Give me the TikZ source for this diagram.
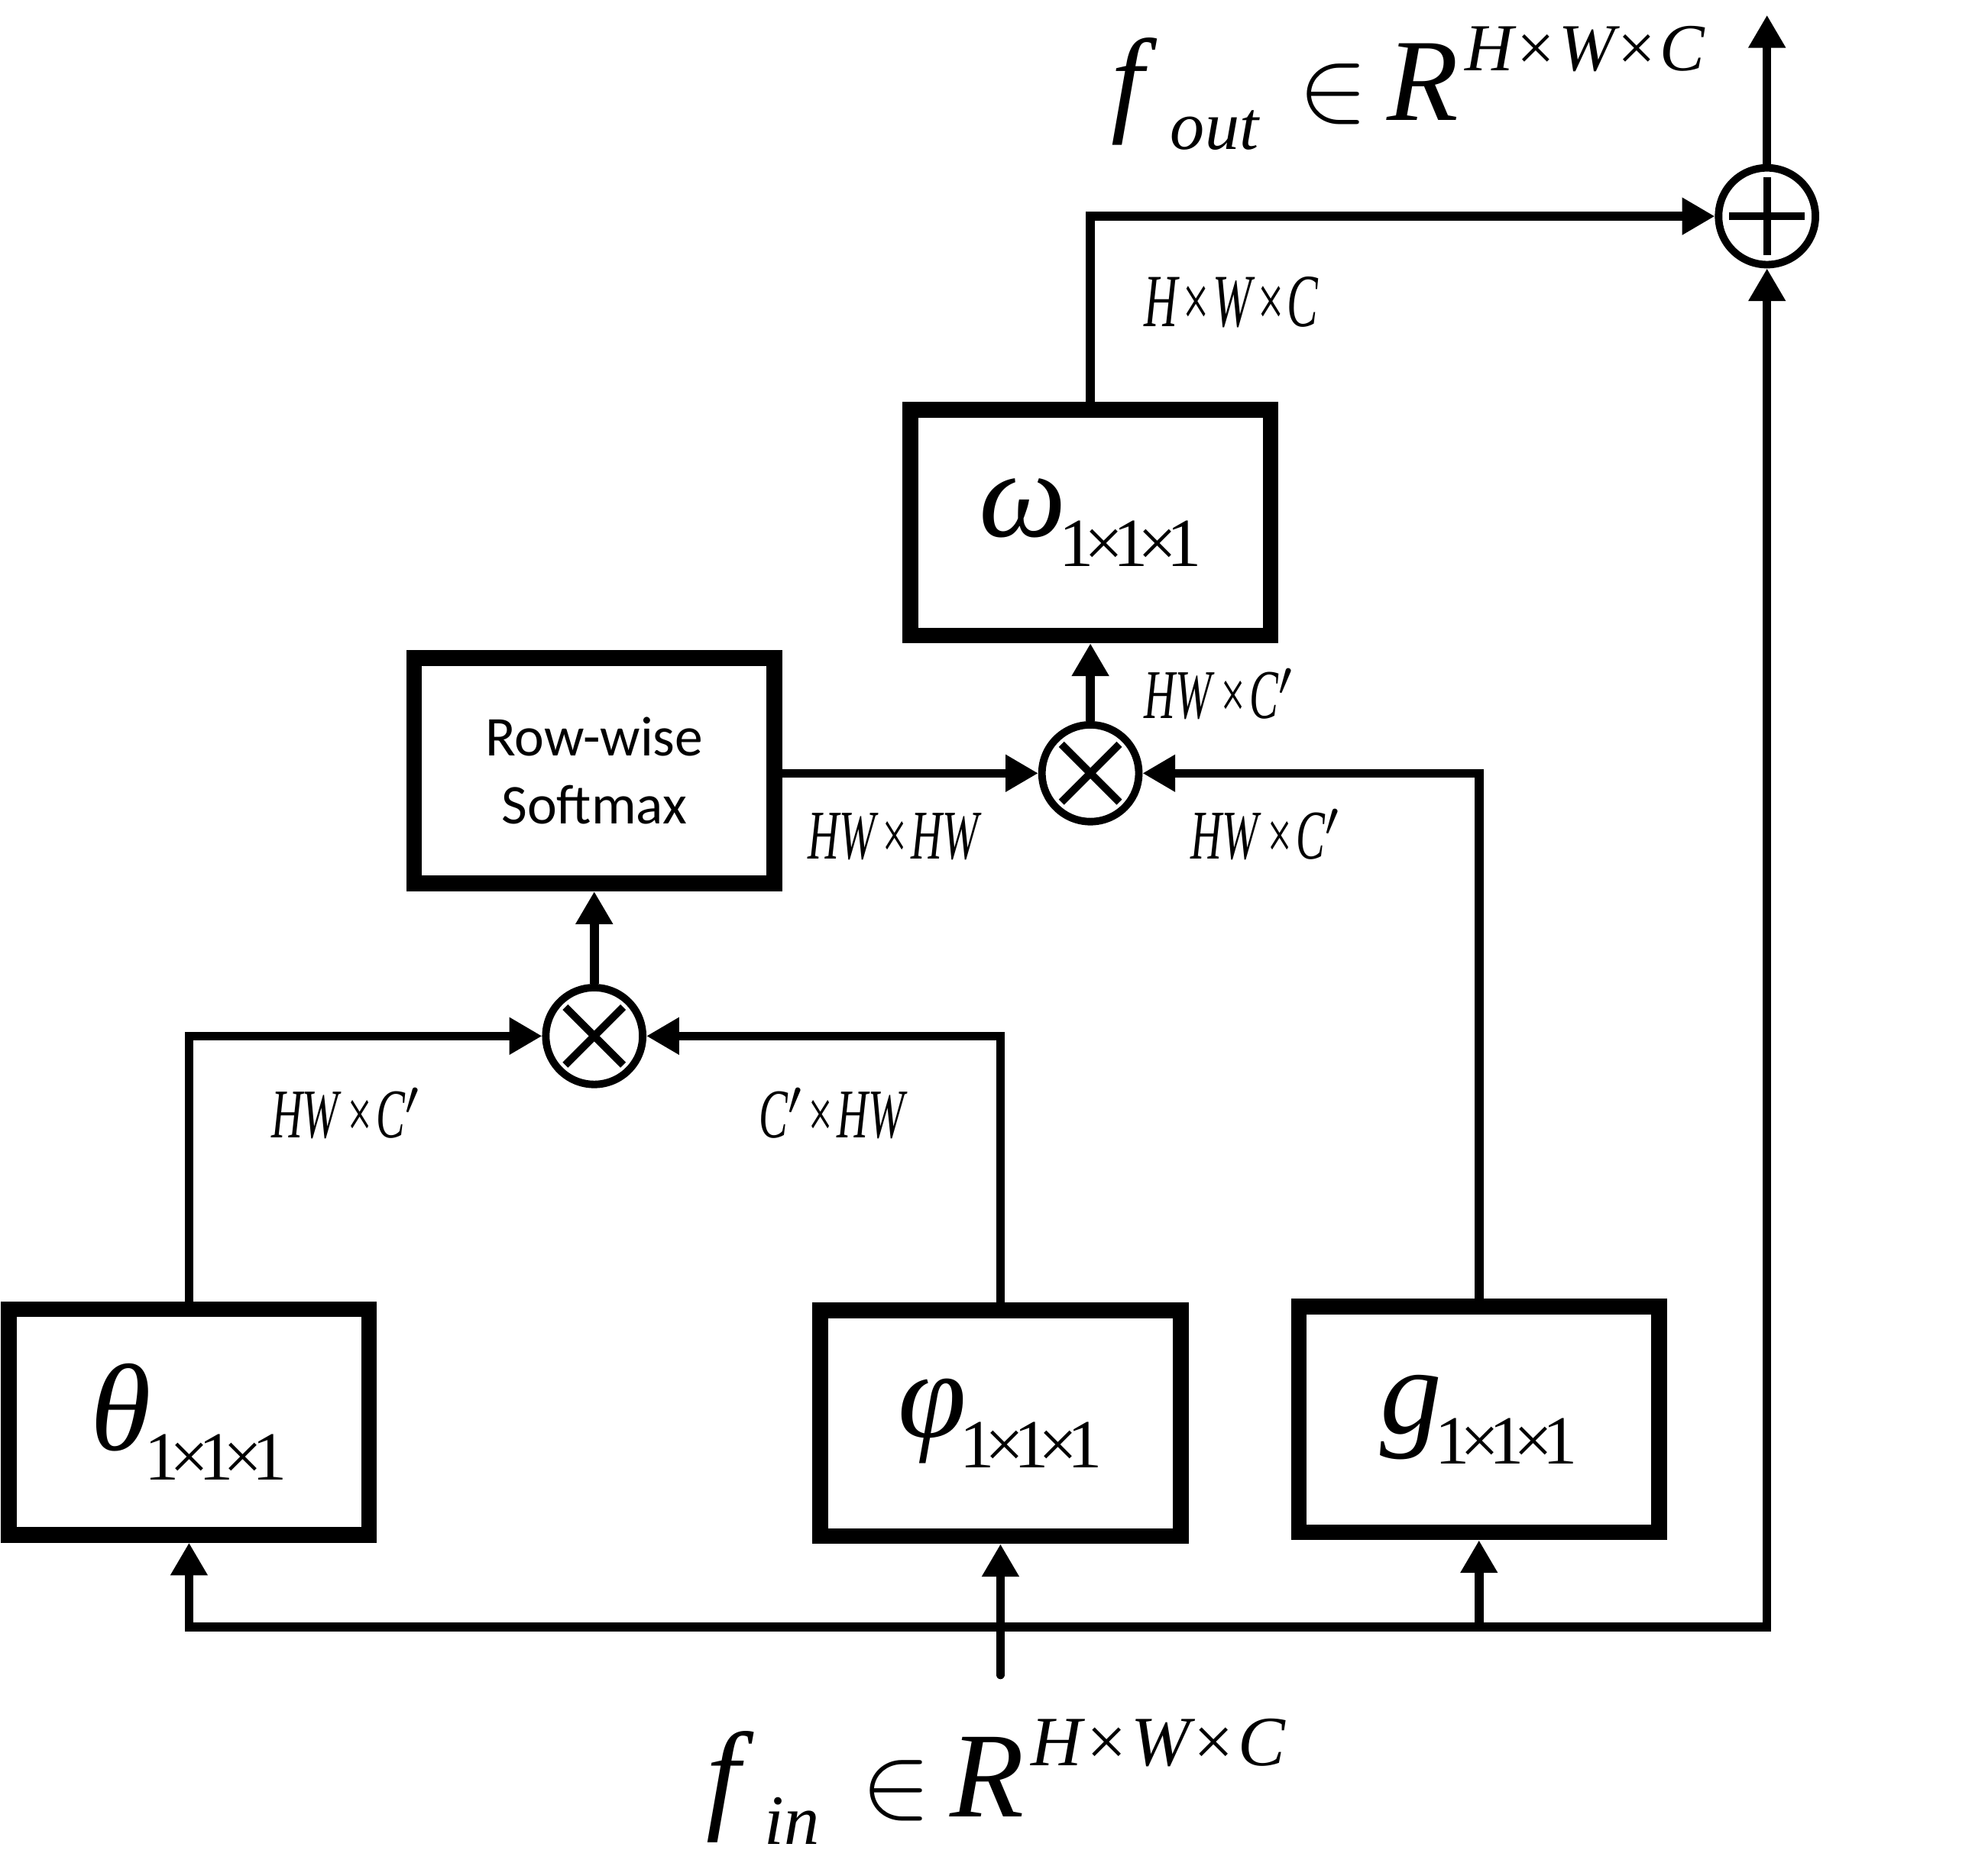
\documentclass[tikz,border=0pt]{standalone}
\usepackage{fontspec}
\usepackage{graphicx}
\setmainfont{Liberation Serif}
\newfontfamily\sansf{Carlito}
\newfontfamily\condf[FakeStretch=0.62]{Liberation Serif}
\usetikzlibrary{arrows.meta}
\newcommand\dimlab[1]{{\condf\itshape\fontsize{15.8}{15.8}\selectfont #1}}
\newcommand\opsub[1]{{\fontsize{28}{28}\selectfont\itshape #1}\kern-1.5pt\raisebox{-6.8pt}{\fontsize{15.6}{15.6}\selectfont 1\kern-2.2pt×\kern-2.2pt1\kern-2.2pt×\kern-2.2pt1}}
\newcommand\supHWC[1]{H\kern#1{\upshape×}\kern#1W\kern#1{\upshape×}\kern#1C}
\newcommand\bigin[1]{\scalebox{#1}{$\in$}}
\tikzset{
  box/.style={draw, line width=3.56pt, minimum width=28.65mm, minimum height=17.95mm, inner sep=0pt},
  opnode/.style={draw, circle, line width=1.7pt, minimum size=7.7mm, inner sep=0pt},
  conn/.style={line width=2pt},
  tip/.style={-{Triangle[length=2.6mm,width=2.8mm]}},
  bothtip/.style={{Triangle[length=2.6mm,width=2.8mm]}-{Triangle[length=2.6mm,width=2.8mm]}},
  symline/.style={line width=1.7pt},
  dl/.style={anchor=base west, inner sep=0pt}
}
\begin{document}
\begin{tikzpicture}[x=0.1mm, y={(0mm,-0.1mm)}]
\useasboundingbox (0,0) rectangle (1568,1492);
% boxes
\node[box] (theta) at (150.3,1131) {\opsub{θ}};
\node[box] (phi) at (795.5,1132) {\opsub{φ}};
\node[box] (g) at (1176,1129) {\opsub{g}};
\node[box] (omega) at (867,415.7) {\opsub{ω}};
\node[box, align=center, font=\sansf\fontsize{12.7}{15.4}\selectfont] (soft) at (472.5,613) {Row-wise\\Softmax};
% operators
\node[opnode] (ot1) at (472.5,824) {};
\node[opnode] (ot2) at (867,615) {};
\node[opnode] (oplus) at (1405,172) {};
\draw[symline] (ot1.center) ++(-23,-23) -- ++(46,46);
\draw[symline] (ot1.center) ++(-23,23) -- ++(46,-46);
\draw[symline] (ot2.center) ++(-23,-23) -- ++(46,46);
\draw[symline] (ot2.center) ++(-23,23) -- ++(46,-46);
\draw[symline] (oplus.center) ++(-30,0) -- ++(60,0);
\draw[symline] (oplus.center) ++(0,-31) -- ++(0,62);
% coordinates
\coordinate (inbot) at (795.5,1332);
\coordinate (jL) at (150.3,1294);
\coordinate (outtip) at (1405,12);
% connectors
\draw[conn,tip] (theta.north) |- (ot1.west);
\draw[conn,tip] (phi.north) |- (ot1.east);
\draw[conn,tip] (ot1.north) -- (soft.south);
\draw[conn,tip] (soft.east |- ot2.west) -- (ot2.west);
\draw[conn,tip] (g.north) |- (ot2.east);
\draw[conn,tip] (ot2.north) -- (omega.south);
\draw[conn,tip] (omega.north) |- (oplus.west);
\draw[conn,tip] (oplus.north) -- (outtip);
\draw[conn,bothtip] (theta.south) -- (jL) -| (oplus.south);
\draw[conn,tip,line cap=round] (inbot) -- (phi.south);
\draw[conn,tip] (g.south |- jL) -- (g.south);
% dimension labels
\node[dl] (l1) at (215,905) {\dimlab{HW\kern1.5pt×\kern0.5pt C$^{\prime}$}};
\node[dl] (l2) at (603,905) {\dimlab{C$^{\prime}$\kern0.5pt×\kern0.5pt HW}};
\node[dl] (l3) at (642,683) {\dimlab{HW\kern1pt×\kern0.5pt HW}};
\node[dl] (l4) at (909,571.5) {\dimlab{HW\kern1.5pt×\kern0.5pt C$^{\prime}$}};
\node[dl] (l5) at (946,683) {\dimlab{HW\kern1.5pt×\kern0.5pt C$^{\prime}$}};
\node[dl] (l6) at (909,260) {{\condf\itshape\fontsize{17}{17}\selectfont H\kern0.6pt×\kern0.3pt W\kern0.6pt×\kern0.3pt C}};
% equations
\node[dl] (fout) at (883,96) {\fontsize{26.5}{26.5}\selectfont\itshape f\kern6pt\raisebox{-6.4pt}{\fontsize{15.6}{15.6}\selectfont out}\kern9pt\bigin{0.95}\kern4.3pt R\kern1.5pt\raisebox{11.4pt}{\fontsize{15.2}{15.2}\selectfont\supHWC{0.8pt}}};
\node[dl] (fin) at (561,1445) {\fontsize{27.5}{27.5}\selectfont\itshape f\kern5.5pt\raisebox{-6.3pt}{\fontsize{16}{16}\selectfont in}\kern9.5pt\bigin{0.95}\kern4.3pt R\kern1.5pt\raisebox{11.6pt}{\fontsize{16}{16}\selectfont\supHWC{1pt}}};
\end{tikzpicture}
\end{document}
